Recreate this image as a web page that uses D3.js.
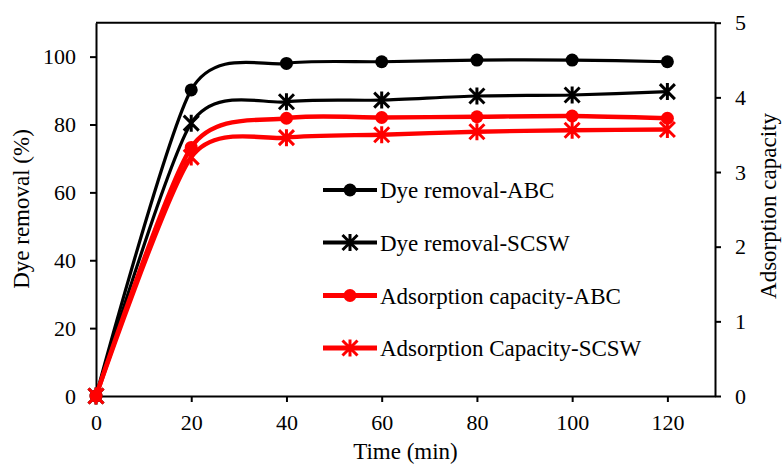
<!DOCTYPE html>
<html>
<head>
    <script src="https://d3js.org/d3.v7.min.js"></script>
    <style>
        body { margin: 0; background: #fff; }
        text { font-family: "Liberation Serif", "Times New Roman", serif; fill: #000; }
    </style>
</head>
<body>
    <svg id="plot" width="782" height="465"></svg>
    <script>
        // data
        const times = [0, 20, 40, 60, 80, 100, 120];
        const removalABC = [0, 90.2, 98.0, 98.5, 99.0, 99.0, 98.5];
        const removalSCSW = [0, 80.4, 86.7, 87.2, 88.4, 88.7, 89.7];
        const capacityABC = [0, 3.33, 3.72, 3.73, 3.74, 3.75, 3.72];
        const capacitySCSW = [0, 3.2, 3.46, 3.5, 3.54, 3.56, 3.57];
        const seriesNames = ["Dye removal-ABC", "Dye removal-SCSW", "Adsorption capacity-ABC", "Adsorption Capacity-SCSW"];
        const xTicks = [0, 20, 40, 60, 80, 100, 120];
        const leftTicks = [0, 20, 40, 60, 80, 100];
        const rightTicks = [0, 1, 2, 3, 4, 5];

        const svg = d3.select('svg#plot');
        const margin = {top: 22.7, right: 67, bottom: 69, left: 96};
        const width = +svg.attr('width');
        const height = +svg.attr('height');

        const xScale = d3.scaleLinear().domain([0, 130]).range([margin.left, width - margin.right]);
        const yLeft = d3.scaleLinear().domain([0, 110]).range([height - margin.bottom, margin.top]);
        const yRight = d3.scaleLinear().domain([0, 5]).range([height - margin.bottom, margin.top]);

        // series setup
        const series = [
            {name: seriesNames[0], values: removalABC, scale: yLeft, color: 'black', marker: 'circle', lw: 3.2},
            {name: seriesNames[1], values: removalSCSW, scale: yLeft, color: 'black', marker: 'star', lw: 3.2},
            {name: seriesNames[2], values: capacityABC, scale: yRight, color: '#ff0000', marker: 'circle', lw: 4.4},
            {name: seriesNames[3], values: capacitySCSW, scale: yRight, color: '#ff0000', marker: 'star', lw: 4.4}
        ];

        //frame top line
        svg.append('line')
            .attr('x1', margin.left).attr('x2', width - margin.right)
            .attr('y1', margin.top).attr('y2', margin.top)
            .style('stroke', 'black').style('stroke-width', 2);

        //axes
        const styleAxis = g => {
            g.attr('font-family', 'Liberation Serif').attr('font-size', 22);
            g.select('.domain').style('stroke', 'black').style('stroke-width', 2);
            g.selectAll('.tick line').style('stroke', 'black').style('stroke-width', 2);
        };

        svg.append('g')
            .attr('transform', `translate(0,${height - margin.bottom})`)
            .call(d3.axisBottom(xScale).tickValues(xTicks).tickSize(6).tickPadding(12).tickSizeOuter(0))
            .call(styleAxis);

        svg.append('g')
            .attr('transform', `translate(${margin.left},0)`)
            .call(d3.axisLeft(yLeft).tickValues(leftTicks).tickSize(6).tickPadding(14).tickSizeOuter(0))
            .call(styleAxis);

        svg.append('g')
            .attr('transform', `translate(${width - margin.right},0)`)
            .call(d3.axisRight(yRight).tickValues(rightTicks).tickFormat(d3.format('d')).tickSize(6).tickPadding(14).tickSizeOuter(0))
            .call(styleAxis);

        //axis titles
        svg.append('text')
            .attr('x', (margin.left + width - margin.right) / 2)
            .attr('y', 459)
            .attr('text-anchor', 'middle')
            .style('font-size', '23px')
            .text('Time (min)');

        svg.append('text')
            .attr('transform', 'translate(29,209) rotate(-90)')
            .attr('text-anchor', 'middle')
            .style('font-size', '23px')
            .text('Dye removal (%)');

        svg.append('text')
            .attr('transform', 'translate(776,206) rotate(-90)')
            .attr('text-anchor', 'middle')
            .style('font-size', '23px')
            .text('Adsorption capacity');

        // markers
        const drawMarker = (g, kind, x, y, color, r) => {
            if (kind === 'circle') {
                g.append('circle').attr('cx', x).attr('cy', y).attr('r', r).style('fill', color);
            } else {
                const s = r + 1;
                const p = `M${x - s},${y - s}L${x + s},${y + s}M${x - s},${y + s}L${x + s},${y - s}M${x},${y - s - 1}L${x},${y + s + 1}`;
                g.append('path').attr('d', p).style('stroke', color).style('stroke-width', 3).style('fill', 'none');
            }
        };

        series.forEach(s => {
            const pts = times.map((t, i) => [xScale(t), s.scale(s.values[i])]);
            const line = d3.line().curve(d3.curveCardinal.tension(0.25));
            svg.append('path')
                .attr('d', line(pts))
                .style('fill', 'none')
                .style('stroke', s.color)
                .style('stroke-width', s.lw);
            const g = svg.append('g');
            pts.forEach(p => drawMarker(g, s.marker, p[0], p[1], s.color, 6.5));
        });

        //legend
        const legendY = [190, 242.5, 295.5, 348];
        series.forEach((s, i) => {
            const g = svg.append('g');
            g.append('line')
                .attr('x1', 323).attr('x2', 377)
                .attr('y1', legendY[i]).attr('y2', legendY[i])
                .style('stroke', s.color)
                .style('stroke-width', s.color === 'black' ? 4 : 5);
            drawMarker(g, s.marker, 350, legendY[i], s.color, 6.5);
            g.append('text')
                .attr('x', 380)
                .attr('y', legendY[i])
                .attr('dy', '0.35em')
                .style('font-size', '23px')
                .text(s.name);
        });
    </script>
</body>
</html>
